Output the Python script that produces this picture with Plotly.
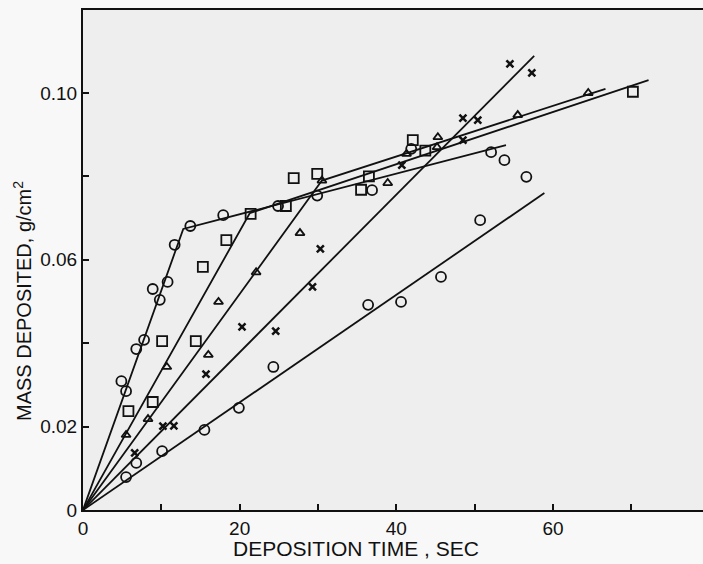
import plotly.graph_objects as go

# ---- data ----
circ1_x = [4.9, 5.5, 6.8, 7.8, 8.9, 9.8, 10.8, 11.7, 13.7, 17.9, 24.9, 29.9, 36.9, 41.9, 52.1]
circ1_y = [0.0309, 0.0285, 0.0386, 0.0408, 0.0530, 0.0504, 0.0547, 0.0636, 0.0681, 0.0707, 0.0729, 0.0754, 0.0767, 0.0866, 0.0858]

sq_x = [5.8, 8.9, 10.1, 14.4, 15.3, 18.3, 21.4, 25.9, 26.9, 29.9, 35.5, 36.5, 42.1, 43.7, 70.2]
sq_y = [0.0237, 0.0259, 0.0405, 0.0405, 0.0583, 0.0647, 0.0710, 0.0729, 0.0796, 0.0806, 0.0768, 0.0800, 0.0887, 0.0862, 0.1003]

tri_x = [5.5, 8.3, 10.7, 16.0, 17.3, 22.1, 27.7, 30.5, 38.9, 41.3, 45.2, 45.3, 55.5, 64.5]
tri_y = [0.0180, 0.0218, 0.0343, 0.0372, 0.0499, 0.0570, 0.0664, 0.0790, 0.0784, 0.0854, 0.0870, 0.0894, 0.0947, 0.1000]

x_x = [6.6, 10.2, 11.6, 15.7, 20.3, 24.6, 29.3, 30.3, 40.7, 48.5, 48.5, 50.4, 54.5, 57.3]
x_y = [0.0137, 0.0201, 0.0202, 0.0326, 0.0439, 0.0429, 0.0535, 0.0626, 0.0827, 0.0887, 0.0940, 0.0935, 0.1070, 0.1048]

circ2_x = [5.5, 6.8, 10.1, 15.5, 19.9, 24.3, 36.4, 40.6, 45.7, 50.7, 53.8, 56.6]
circ2_y = [0.0079, 0.0113, 0.0141, 0.0192, 0.0245, 0.0343, 0.0492, 0.0499, 0.0559, 0.0695, 0.0839, 0.0799]

fitA_x = [0, 12.8, 54.0]
fitA_y = [0, 0.0674, 0.0875]
fitB_x = [0, 21.3, 72.2]
fitB_y = [0, 0.0712, 0.1031]
fitC_x = [0, 30.5, 66.7]
fitC_y = [0, 0.0790, 0.1010]
fitD_x = [0, 57.6]
fitD_y = [0, 0.1089]
fitE_x = [0, 58.9]
fitE_y = [0, 0.0760]

x_major = [0, 20, 40, 60]
x_major_text = ["0", "20", "40", "60"]
x_minor = [10, 30, 50, 70]
y_major = [0, 0.02, 0.06, 0.10]
y_major_text = ["0", "0.02", "0.06", "0.10"]
y_minor = [0.04, 0.08]

BLACK = "#111111"
fig = go.Figure()

for fx, fy in [(fitA_x, fitA_y), (fitB_x, fitB_y), (fitC_x, fitC_y), (fitD_x, fitD_y), (fitE_x, fitE_y)]:
    fig.add_trace(go.Scatter(x=fx, y=fy, mode="lines", line=dict(color=BLACK, width=1.8),
                             showlegend=False, hoverinfo="skip"))

def pts(xs, ys, symbol, size, lw):
    fig.add_trace(go.Scatter(x=xs, y=ys, mode="markers", showlegend=False,
                             marker=dict(symbol=symbol, size=size, color=BLACK,
                                         line=dict(color=BLACK, width=lw))))

pts(circ1_x, circ1_y, "circle-open", 10, 1.8)
pts(circ2_x, circ2_y, "circle-open", 10, 1.8)
pts(sq_x, sq_y, "square-open", 10, 1.8)
pts(tri_x, tri_y, "triangle-up-open", 8, 1.8)
pts(x_x, x_y, "x-thin-open", 7, 2.5)

FONT = "Liberation Sans, Arial, sans-serif"
TICKFONT = dict(family=FONT, size=19, color=BLACK)
MINOR = dict(ticks="inside", ticklen=6, tickwidth=1.6, tickcolor=BLACK, showgrid=False)

fig.update_layout(
    width=703, height=564,
    margin=dict(l=83, r=0, t=10, b=54),
    paper_bgcolor="#f8f8f8",
    plot_bgcolor="#eeeeee",
    xaxis=dict(range=[0, 79.15], tickmode="array", tickvals=x_major, ticktext=x_major_text,
               ticks="inside", ticklen=6, tickwidth=1.6, tickcolor=BLACK,
               minor=dict(tickmode="array", tickvals=x_minor, **MINOR),
               showline=True, linecolor=BLACK, linewidth=2, mirror=True,
               showgrid=False, zeroline=False, tickfont=TICKFONT),
    yaxis=dict(range=[0, 0.1199], tickmode="array", tickvals=y_major, ticktext=y_major_text,
               ticks="inside", ticklen=6, tickwidth=1.6, tickcolor=BLACK,
               minor=dict(tickmode="array", tickvals=y_minor, **MINOR),
               showline=True, linecolor=BLACK, linewidth=2,
               showgrid=False, zeroline=False, tickfont=TICKFONT),
    annotations=[
        dict(text="DEPOSITION TIME , SEC", xref="paper", yref="paper",
             x=(356 - 83) / 620, y=-38 / 500, xanchor="center", yanchor="middle",
             showarrow=False, font=dict(family=FONT, size=21, color=BLACK)),
        dict(text="MASS DEPOSITED, g/cm<sup>2</sup>", xref="paper", yref="paper",
             x=-61 / 620, y=(510 - 301) / 500, xanchor="center", yanchor="middle",
             textangle=-90, showarrow=False, font=dict(family=FONT, size=20, color=BLACK)),
    ],
)

fig.write_html("out.html", config={"displayModeBar": False},
               post_script="document.body.style.margin='0';")
